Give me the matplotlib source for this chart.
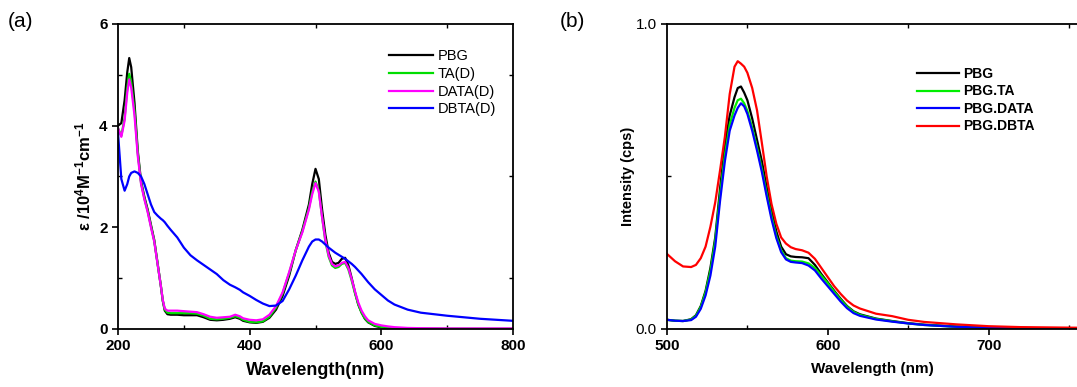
import matplotlib
matplotlib.use('Agg')
import matplotlib.pyplot as plt
from matplotlib.ticker import MultipleLocator

plt.rcParams['font.family'] = ['Liberation Sans', 'DejaVu Sans']
plt.rcParams['mathtext.fontset'] = 'custom'
plt.rcParams['mathtext.rm'] = 'Liberation Sans:bold'
plt.rcParams['mathtext.bf'] = 'Liberation Sans:bold'
plt.rcParams['mathtext.it'] = 'Liberation Sans:bold:italic'
plt.rcParams['mathtext.bfit'] = 'Liberation Sans:bold:italic'

# ---- (a) absorption data ----
wl_a = [200, 205, 210, 214, 217, 220, 225, 230, 235, 240, 245, 250, 255, 260,
        265, 268, 271, 275, 280, 290, 300, 310, 320, 330, 340, 350, 360, 370,
        378, 385, 390, 400, 410, 420, 430, 440, 450, 460, 470, 480, 490, 495,
        500, 505, 510, 515, 520, 525, 530, 535, 540, 545, 550, 555, 560, 565,
        570, 575, 580, 590, 600, 610, 620, 640, 660, 700, 750, 800]

pbg_a = [4.0, 4.05, 4.5, 5.05, 5.33, 5.15, 4.45, 3.5, 2.9, 2.6, 2.35, 2.05, 1.75, 1.3,
         0.85, 0.55, 0.36, 0.29, 0.28, 0.28, 0.27, 0.27, 0.27, 0.23, 0.18, 0.17, 0.18, 0.2,
         0.23, 0.2, 0.16, 0.13, 0.12, 0.14, 0.22, 0.38, 0.65, 1.05, 1.55, 1.95, 2.45, 2.85,
         3.15, 2.95, 2.35, 1.85, 1.5, 1.32, 1.28, 1.3, 1.38, 1.4, 1.25, 1.0, 0.72, 0.48,
         0.32, 0.2, 0.13, 0.06, 0.03, 0.015, 0.008, 0.003, 0.002, 0.001, 0.0, 0.0]

ta_a = [3.95, 3.8, 4.15, 4.75, 5.02, 4.85, 4.3, 3.45, 2.87, 2.57, 2.32, 2.02, 1.73, 1.29,
        0.85, 0.56, 0.38, 0.32, 0.31, 0.31, 0.31, 0.31, 0.3, 0.26, 0.2, 0.19, 0.2, 0.22,
        0.25, 0.22, 0.18, 0.14, 0.13, 0.15, 0.24, 0.42, 0.7, 1.1, 1.55, 1.92, 2.38, 2.7,
        2.9, 2.72, 2.2, 1.72, 1.42, 1.25, 1.2, 1.22, 1.28, 1.3, 1.17, 0.95, 0.7, 0.48,
        0.32, 0.21, 0.14, 0.07, 0.04, 0.02, 0.012, 0.006, 0.004, 0.002, 0.001, 0.001]

data_a = [3.95, 3.78, 4.1, 4.65, 4.91, 4.75, 4.2, 3.4, 2.85, 2.55, 2.3, 2.0, 1.72, 1.28,
          0.85, 0.57, 0.4, 0.36, 0.36, 0.36, 0.35, 0.34, 0.33, 0.29, 0.24, 0.22, 0.23, 0.24,
          0.28, 0.25, 0.21, 0.18, 0.17, 0.19, 0.28, 0.45, 0.72, 1.12, 1.55, 1.9, 2.35, 2.65,
          2.87, 2.7, 2.2, 1.75, 1.45, 1.28, 1.23, 1.25, 1.3, 1.32, 1.2, 0.98, 0.74, 0.52,
          0.36, 0.25, 0.17, 0.1, 0.07, 0.05, 0.035, 0.02, 0.015, 0.01, 0.01, 0.01]

dbta_a = [3.85, 2.95, 2.72, 2.85, 3.0, 3.07, 3.1, 3.07, 3.0, 2.85, 2.65, 2.45, 2.3, 2.23,
          2.17, 2.14, 2.1, 2.03, 1.95, 1.8, 1.6, 1.45, 1.35, 1.26, 1.17, 1.08, 0.96, 0.87,
          0.82, 0.77, 0.72, 0.65, 0.57, 0.5, 0.45, 0.46, 0.55, 0.78, 1.05, 1.35, 1.62, 1.72,
          1.76, 1.76, 1.72, 1.66, 1.6, 1.55, 1.5, 1.46, 1.42, 1.38, 1.33, 1.28, 1.22, 1.15,
          1.08, 1.0, 0.92, 0.78, 0.67, 0.56, 0.48, 0.38, 0.32, 0.26, 0.2, 0.16]

# ---- (b) emission data ----
wl_b = [500, 505, 510, 515, 518, 521, 524, 527, 530, 533, 536, 539, 542, 544, 546,
        548, 550, 553, 556, 559, 562, 565, 568, 571, 574, 577, 580, 584, 588, 592,
        596, 600, 604, 608, 612, 616, 620, 630, 640, 650, 660, 680, 700, 720, 755]

pbg_b = [0.03, 0.027, 0.026, 0.032, 0.045, 0.075, 0.125, 0.2, 0.3, 0.46, 0.6, 0.7, 0.76, 0.79, 0.795,
         0.775, 0.75, 0.69, 0.62, 0.55, 0.465, 0.39, 0.32, 0.27, 0.245, 0.238, 0.236, 0.235, 0.232, 0.21,
         0.18, 0.153, 0.125, 0.099, 0.075, 0.058, 0.048, 0.034, 0.026, 0.019, 0.014, 0.008, 0.005, 0.003, 0.002]

ta_b = [0.03, 0.027, 0.026, 0.031, 0.043, 0.072, 0.12, 0.19, 0.29, 0.44, 0.57, 0.67, 0.725, 0.75, 0.755,
        0.74, 0.715, 0.66, 0.595, 0.525, 0.445, 0.37, 0.305, 0.258, 0.232, 0.224, 0.222, 0.221, 0.215, 0.2,
        0.175, 0.15, 0.122, 0.096, 0.073, 0.056, 0.046, 0.033, 0.025, 0.018, 0.013, 0.007, 0.004, 0.003, 0.002]

data_b = [0.03, 0.027, 0.026, 0.029, 0.04, 0.066, 0.11, 0.175, 0.27, 0.42, 0.55, 0.65, 0.70, 0.725, 0.74,
          0.73, 0.705, 0.65, 0.585, 0.515, 0.435, 0.36, 0.298, 0.252, 0.228, 0.22, 0.218, 0.216, 0.208, 0.192,
          0.165, 0.14, 0.115, 0.09, 0.068, 0.052, 0.043, 0.031, 0.024, 0.018, 0.013, 0.007, 0.004, 0.003, 0.002]

dbta_b = [0.246, 0.222, 0.205, 0.203, 0.21, 0.232, 0.27, 0.335, 0.415, 0.52, 0.63, 0.77, 0.86, 0.878, 0.87,
          0.86, 0.84, 0.79, 0.717, 0.61, 0.5, 0.41, 0.345, 0.3, 0.28, 0.268, 0.262, 0.258, 0.25, 0.23,
          0.2, 0.17, 0.14, 0.115, 0.093, 0.077, 0.067, 0.05, 0.042, 0.03, 0.023, 0.015, 0.009, 0.006, 0.004]

labels_a = ['PBG', 'TA(D)', 'DATA(D)', 'DBTA(D)']
colors_a = ['black', '#00dd00', '#ff00ff', '#0000ff']
labels_b = ['PBG', 'PBG.TA', 'PBG.DATA', 'PBG.DBTA']
colors_b = ['black', '#00ee00', '#0000ff', '#ff0000']

fig = plt.figure(figsize=(10.77, 3.87), dpi=100)
ax1 = fig.add_axes([0.1096, 0.150, 0.3667, 0.788])
ax2 = fig.add_axes([0.6193, 0.150, 0.3807, 0.788])

def style_axis(ax, right=True):
    for s in ax.spines.values():
        s.set_linewidth(1.3)
    ax.tick_params(which='major', direction='out', length=4, width=1.2,
                   top=False, right=False, labelsize=11)
    ax.tick_params(which='minor', direction='in', length=3, width=1.0,
                   top=True, right=right)

# panel (a)
for y, lab, c in zip([pbg_a, ta_a, data_a, dbta_a], labels_a, colors_a):
    ax1.plot(wl_a, y, color=c, lw=1.6, label=lab)
ax1.set_xlim(200, 800)
ax1.set_ylim(0, 6)
ax1.xaxis.set_major_locator(MultipleLocator(200))
ax1.xaxis.set_minor_locator(MultipleLocator(100))
ax1.yaxis.set_major_locator(MultipleLocator(2))
ax1.yaxis.set_minor_locator(MultipleLocator(1))
style_axis(ax1)
for t in ax1.get_xticklabels() + ax1.get_yticklabels():
    t.set_fontweight('bold')
ax1.set_xlabel('Wavelength(nm)', fontsize=13, fontweight='bold', labelpad=6)
ax1.set_ylabel(r'$\boldsymbol{\varepsilon}$ /10$^{4}$M$^{-1}$cm$^{-1}$', fontsize=12,
               fontweight='bold', labelpad=4)
ax1.legend(loc='upper right', bbox_to_anchor=(0.99, 0.96), frameon=False,
           fontsize=10.5, handlelength=3.0, handletextpad=0.3, labelspacing=0.25)
fig.text(0.007, 0.93, '(a)', fontsize=15)

# panel (b)
for y, lab, c in zip([pbg_b, ta_b, data_b, dbta_b], labels_b, colors_b):
    ax2.plot(wl_b, y, color=c, lw=1.6, label=lab)
ax2.set_xlim(500, 755)
ax2.set_ylim(0, 1.0)
ax2.xaxis.set_major_locator(MultipleLocator(100))
ax2.xaxis.set_minor_locator(MultipleLocator(50))
ax2.yaxis.set_major_locator(MultipleLocator(1.0))
ax2.yaxis.set_minor_locator(MultipleLocator(0.5))
ax2.yaxis.set_major_formatter(matplotlib.ticker.FormatStrFormatter('%.1f'))
style_axis(ax2, right=False)
ax2.spines['right'].set_visible(False)
for t in ax2.get_xticklabels():
    t.set_fontweight('bold')
ax2.set_xlabel('Wavelength (nm)', fontsize=11, fontweight='bold', labelpad=6)
ax2.set_ylabel('Intensity (cps)', fontsize=10.5, fontweight='bold', labelpad=0)
ax2.legend(loc='upper left', bbox_to_anchor=(0.58, 0.90), frameon=False,
           handlelength=3.0, handletextpad=0.3, labelspacing=0.25,
           prop={'weight': 'bold', 'size': 10})
fig.text(0.52, 0.93, '(b)', fontsize=15)

fig.savefig('out.png', dpi=100)
